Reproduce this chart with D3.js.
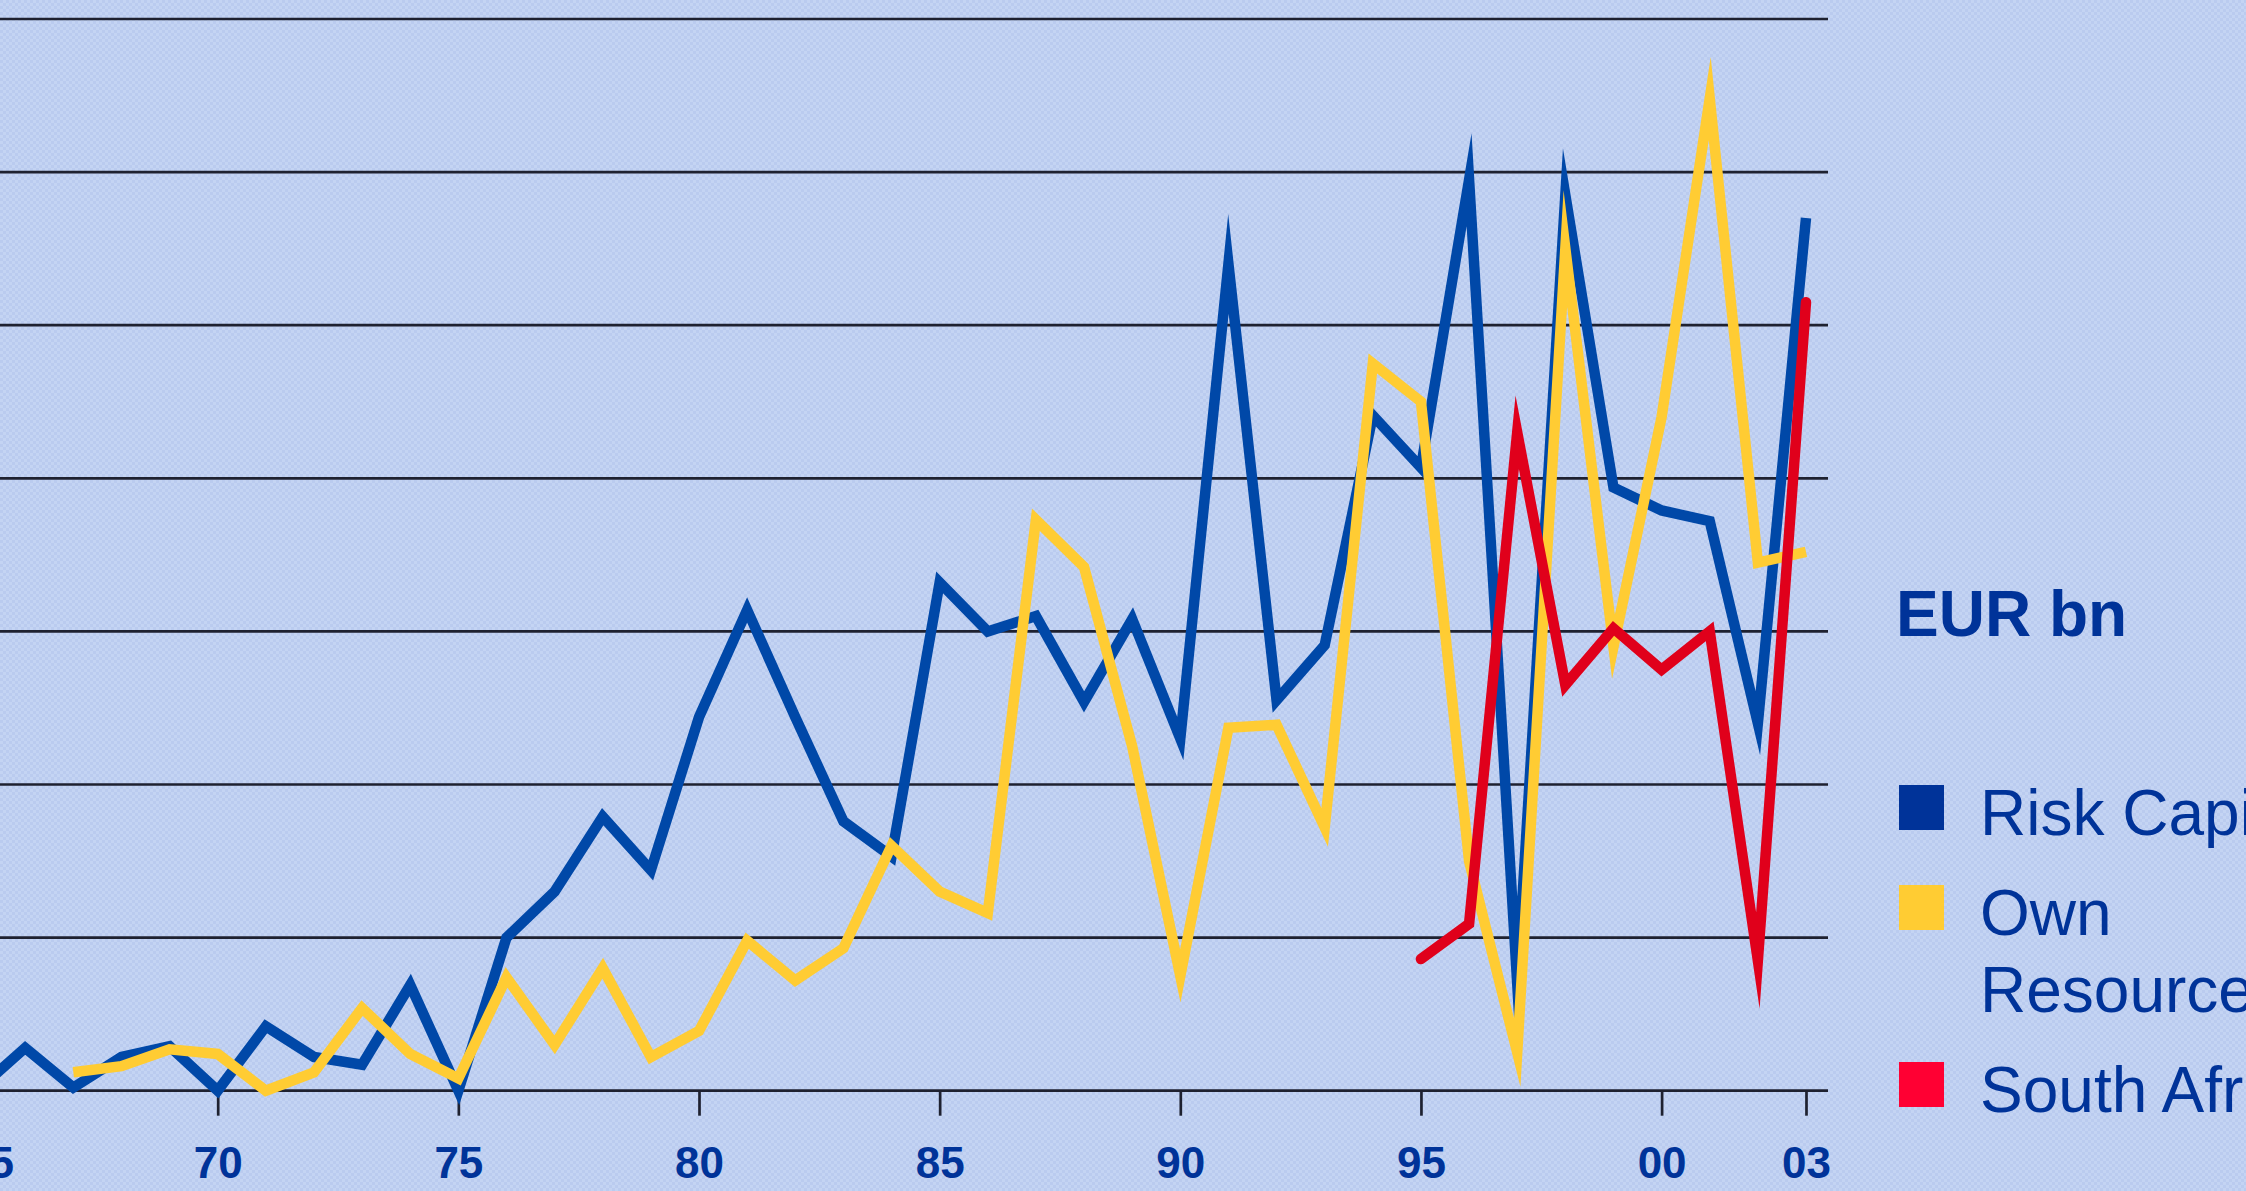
<!DOCTYPE html>
<html>
<head>
<meta charset="utf-8">
<script src="https://cdnjs.cloudflare.com/ajax/libs/d3/7.8.5/d3.min.js"></script>
<style>
  html, body { margin: 0; padding: 0; overflow: hidden; background: #c3d3f2; }
  svg { display: block; }
</style>
</head>
<body>
<svg id="chart" width="2246" height="1191"></svg>
<script>
// data, EUR bn (in grid units)
var years = d3.range(1965, 2004);
var riskCapital = [0.0, 0.28, 0.02, 0.22, 0.29, 0.0, 0.42, 0.22, 0.17, 0.69, 0.0, 1.0, 1.3, 1.79, 1.44, 2.44, 3.14, 2.44, 1.76, 1.53,
                   3.32, 3.0, 3.1, 2.54, 3.08, 2.3, 5.4, 2.55, 2.91, 4.41, 4.07, 5.95, 0.7, 5.85, 3.94, 3.79, 3.72, 2.4, 5.7];
var ownYears = d3.range(1967, 2004);
var ownResources = [0.12, 0.16, 0.27, 0.24, 0.0, 0.12, 0.54, 0.24, 0.08, 0.74, 0.3, 0.8, 0.22, 0.39, 0.98, 0.72, 0.93, 1.6, 1.3, 1.16,
                    3.73, 3.42, 2.25, 0.75, 2.37, 2.39, 1.72, 4.75, 4.5, 1.5, 0.25, 5.5, 2.9, 4.4, 6.48, 3.45, 3.52];
var saYears = d3.range(1995, 2004);
var southAfrica = [0.86, 1.09, 4.3, 2.65, 3.02, 2.75, 3.0, 0.85, 5.15];
var tickYears = [1965, 1970, 1975, 1980, 1985, 1990, 1995, 2000, 2003];
var seriesNames = ["Risk Capital", "Own Resources", "South Africa"];
var seriesColors = ["#0048a8", "#ffcc33", "#e0001b"];
var swatchColors = ["#003399", "#ffcc33", "#ff0033"];

var svg = d3.select("#chart");

// background texture
var defs = svg.append("defs");
var pat = defs.append("pattern").attr("id", "tex")
    .attr("patternUnits", "userSpaceOnUse").attr("width", 6).attr("height", 6);
pat.append("rect").attr("width", 6).attr("height", 6).attr("fill", "#c4d4f3");
pat.append("rect").attr("x", 0).attr("y", 0).attr("width", 3).attr("height", 3).attr("fill", "#bacbef");
pat.append("rect").attr("x", 3).attr("y", 3).attr("width", 3).attr("height", 3).attr("fill", "#bacbef");
svg.append("rect").attr("width", 2246).attr("height", 1191).attr("fill", "url(#tex)");

var x = d3.scaleLinear().domain([1970, 2000]).range([217.7, 1661.6]);
var y = d3.scaleLinear().domain([0, 7]).range([1090.7, 19]);

// gridlines
g = svg.append("g");
g.selectAll("line.grid")
    .data(d3.range(0, 8))
    .enter().append("line")
    .attr("class", "grid")
    .attr("x1", 0).attr("x2", 1828)
    .attr("y1", d => y(d)).attr("y2", d => y(d))
    .attr("stroke", "#1e2130").attr("stroke-width", 2.7);

// x axis
var xAxis = d3.axisBottom(x)
    .tickValues(tickYears)
    .tickSize(25)
    .tickPadding(31)
    .tickFormat(d => String(d).slice(2));
var ax = svg.append("g").attr("transform", "translate(0," + y(0) + ")").call(xAxis);
ax.select(".domain").remove();
ax.selectAll(".tick line").attr("stroke", "#1e2130").attr("stroke-width", 2.7);
ax.selectAll(".tick text")
    .attr("fill", "#003399")
    .attr("font-family", "Liberation Sans, Arial, sans-serif")
    .attr("font-weight", "bold")
    .attr("font-size", 44)
    .attr("dx", d => d == 1965 ? 12 : 0);

// lines
var line = d3.line().x(d => x(d[0])).y(d => y(d[1]));
var allSeries = [
    d3.zip(years, riskCapital),
    d3.zip(ownYears, ownResources),
    d3.zip(saYears, southAfrica)
];
svg.append("g").selectAll("path")
    .data(allSeries)
    .enter().append("path")
    .attr("d", line)
    .attr("fill", "none")
    .attr("stroke", (d, i) => seriesColors[i])
    .attr("stroke-width", 10.5)
    .attr("stroke-linejoin", "miter")
    .attr("stroke-miterlimit", 30)
    .attr("stroke-linecap", (d, i) => i == 2 ? "round" : "butt");

// unit label
svg.append("text")
    .attr("x", 1896).attr("y", 636)
    .attr("fill", "#003399")
    .attr("font-family", "Liberation Sans, Arial, sans-serif")
    .attr("font-weight", "bold")
    .attr("font-size", 64)
    .text("EUR bn");

// legend
var legendY = [785, 885, 1062];
var leg = svg.append("g").selectAll("g")
    .data(seriesNames)
    .enter().append("g")
    .attr("transform", (d, i) => "translate(1899," + legendY[i] + ")");
leg.append("rect")
    .attr("width", 45).attr("height", 45)
    .attr("fill", (d, i) => swatchColors[i]);
leg.append("text")
    .attr("x", 81).attr("y", 50)
    .attr("fill", "#003399")
    .attr("font-family", "Liberation Sans, Arial, sans-serif")
    .attr("font-size", 64)
    .each(function(d) {
        var parts = d == "Own Resources" ? ["Own", "Resources"] : [d];
        var t = d3.select(this);
        parts.forEach(function(p, k) {
            t.append("tspan").attr("x", 81).attr("dy", k == 0 ? 0 : 77).text(p);
        });
    });
</script>
</body>
</html>
